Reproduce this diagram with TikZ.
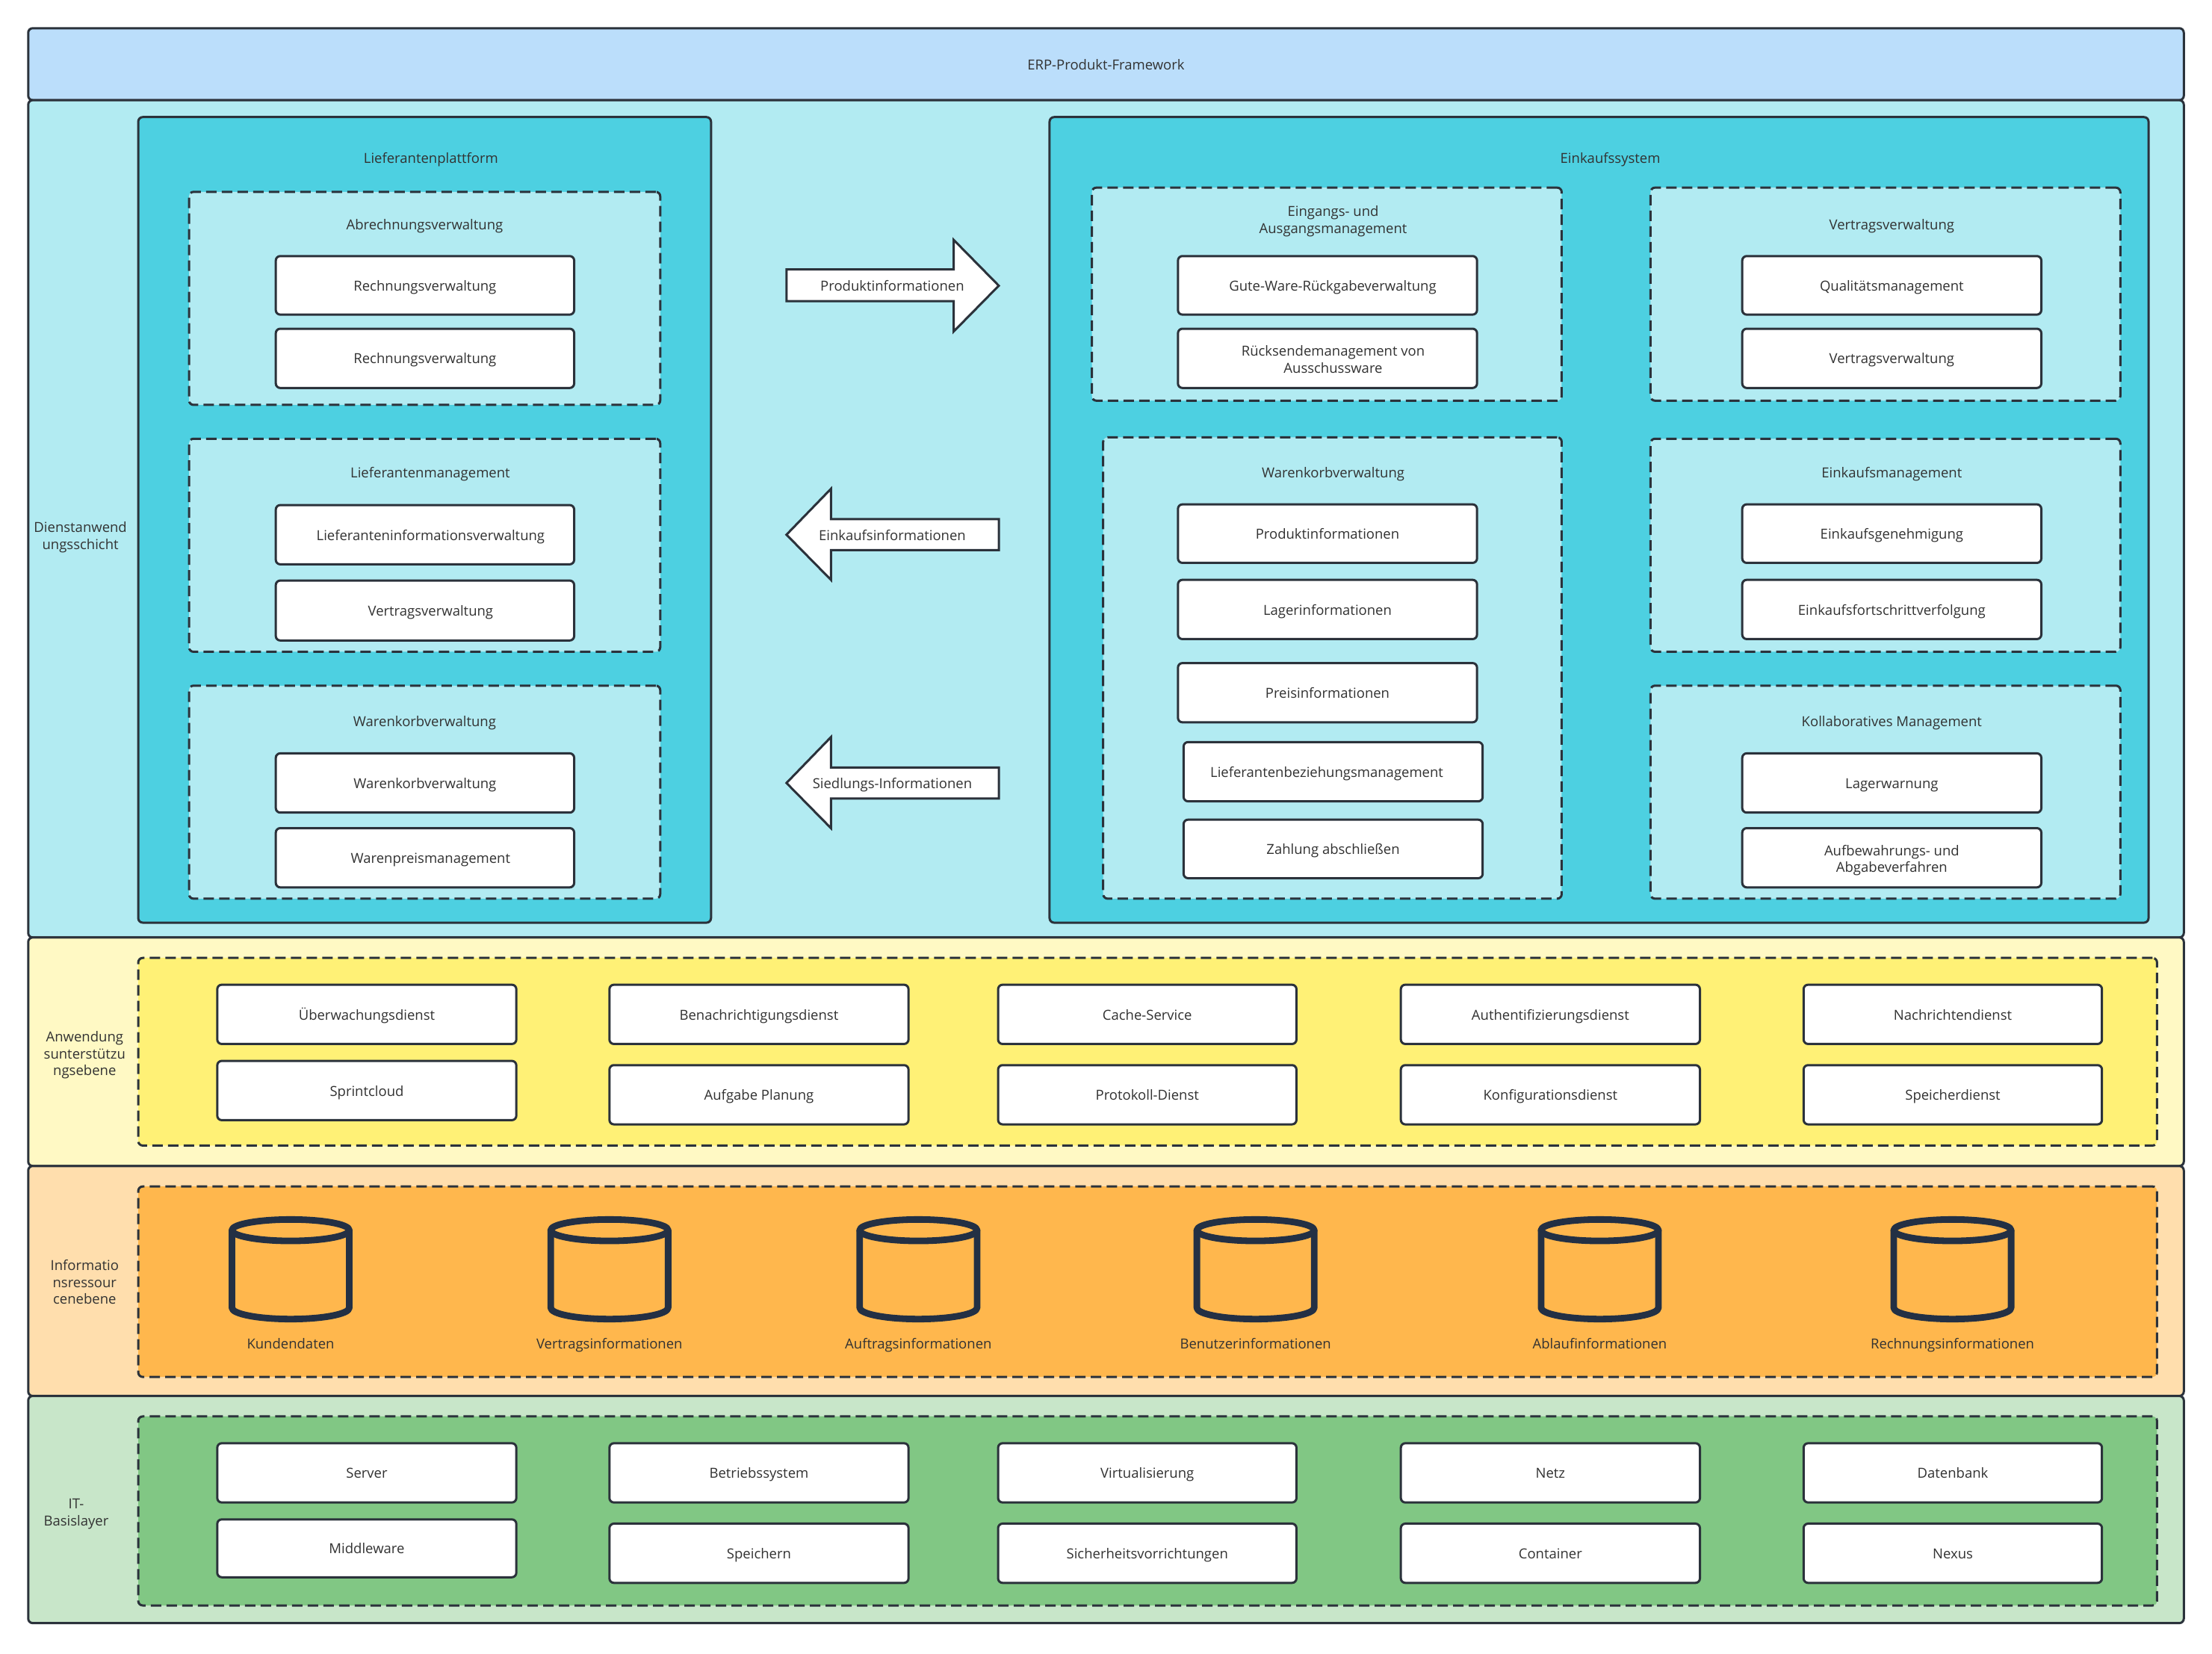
\documentclass[tikz,border=0pt]{standalone}
\usepackage{fontspec}
\setmainfont{Open Sans}
\usetikzlibrary{calc}
\definecolor{ink}{HTML}{2B323B}
\definecolor{txt}{HTML}{323232}
\definecolor{cyl}{HTML}{233044}
\definecolor{cTop}{HTML}{BBDEFB}
\definecolor{cCy}{HTML}{B2EBF2}
\definecolor{cCyD}{HTML}{4DD0E1}
\definecolor{cYe}{HTML}{FFF9C4}
\definecolor{cYeD}{HTML}{FFF176}
\definecolor{cOr}{HTML}{FFDEAD}
\definecolor{cOrD}{HTML}{FFB74D}
\definecolor{cGr}{HTML}{C8E6C9}
\definecolor{cGrD}{HTML}{81C784}
\tikzset{
  every node/.style={font=\fontsize{9.25pt}{11.3pt}\selectfont, text=txt, align=center, inner sep=0pt,
    execute at begin node={\rule[-3.39pt]{0pt}{14.1pt}}, execute at end node=\strut},
  frame/.style={draw=ink, line width=1.5pt, rounded corners=3pt},
  layerTop/.style={frame, fill=cTop},
  layerCy/.style={frame, fill=cCy},
  layerYe/.style={frame, fill=cYe},
  layerOr/.style={frame, fill=cOr},
  layerGr/.style={frame, fill=cGr},
  platform/.style={frame, fill=cCyD},
  dashCy/.style={frame, fill=cCy, dash pattern=on 7pt off 3.5pt},
  dashYe/.style={frame, fill=cYeD, dash pattern=on 7pt off 3.5pt},
  dashOr/.style={frame, fill=cOrD, dash pattern=on 7pt off 3.5pt},
  dashGr/.style={frame, fill=cGrD, dash pattern=on 7pt off 3.5pt},
  item/.style={frame, fill=white},
  flow/.style={draw=ink, line width=1.5pt, fill=white, line join=miter},
  drum/.style={draw=cyl, line width=4.4pt, line join=round},
  caption/.style={}
}
% first line of a text of several lines: lowers the whole text a little
\newcommand{\fl}{\rule{0pt}{11.7pt}}
% \bx{style}{name}{x1}{y1}{x2}{y2}{text}
\newcommand{\bx}[7]{%
  \pgfmathsetmacro{\bw}{(#5-#3)*0.9442}%
  \pgfmathsetmacro{\bh}{(#6-#4)*0.9442}%
  \node[#1, minimum width=\bw pt, minimum height=\bh pt] (#2) at ({(#3+#5)/2},{(#4+#6)/2}) {#7};%
}
\newcommand{\cyl}[3]{% name, cx, caption
  \coordinate (#1c) at (#2,872);
  \draw[drum] ($(#1c)+(-41.6,0)$) -- ($(#1c)+(-41.6,55)$)
     arc[start angle=180, end angle=0, x radius=41.6, y radius=8]
     -- ($(#1c)+(41.6,0)$);
  \draw[drum] (#1c) ellipse [x radius=41.6, y radius=7.6];
  \node[caption] (#1t) at (#2,952) {#3};
}
\begin{document}
\begin{tikzpicture}[x=0.9442pt,y=-0.9442pt]
\useasboundingbox (0,0) rectangle (1568,1172);
% layers
\bx{layerTop}{top}{20}{20}{1548}{71}{ERP-Produkt-Framework}
\bx{layerCy}{L2}{20}{71}{1548}{664.5}{}
\bx{layerYe}{L3}{20}{664.5}{1548}{826.5}{}
\bx{layerOr}{L4}{20}{826.5}{1548}{989.5}{}
\bx{layerGr}{L5}{20}{989.5}{1548}{1150.5}{}
\node[caption] (t2) at (57,379) {\fl Dienstanwend\\ungsschicht};
\node[caption] (t3) at (60,746) {\fl Anwendung\\sunterstützu\\ngsebene};
\node[caption] (t4) at (60,908) {\fl Informatio\\nsressour\\cenebene};
\node[caption] (t5) at (54,1071) {\fl IT-\\Basislayer};
% Lieferantenplattform
\bx{platform}{lp}{98}{83}{504}{654}{}
\node[caption] (lpt) at (305.5,112) {Lieferantenplattform};
\bx{dashCy}{d1}{134}{136}{468}{287}{}
\node[caption] (d1t) at (301,159) {Abrechnungsverwaltung};
\bx{item}{a1}{195.5}{181.5}{407}{223}{Rechnungsverwaltung}
\bx{item}{a2}{195.5}{233}{407}{275}{Rechnungsverwaltung}
\bx{dashCy}{d2}{134}{311}{468}{462}{}
\node[caption] (d2t) at (305,335) {Lieferantenmanagement};
\bx{item}{a3}{195.5}{358}{407}{400}{\hspace*{7.5pt}Lieferanteninformationsverwaltung}
\bx{item}{a4}{195.5}{411.5}{407}{454}{\hspace*{7.5pt}Vertragsverwaltung}
\bx{dashCy}{d3}{134}{486}{468}{637}{}
\node[caption] (d3t) at (301,511) {Warenkorbverwaltung};
\bx{item}{a5}{195.5}{534}{407}{576}{Warenkorbverwaltung}
\bx{item}{a6}{195.5}{587}{407}{629}{\hspace*{7.5pt}Warenpreismanagement}
% flow arrows
\draw[flow] (557.5,191) -- (676,191) -- (676,170) -- (708,202.5) -- (676,235) -- (676,213.5) -- (557.5,213.5) -- cycle;
\node[caption] (f1) at (632.5,202.5) {Produktinformationen};
\draw[flow] (708,368) -- (589,368) -- (589,346.5) -- (557.5,379) -- (589,411) -- (589,390) -- (708,390) -- cycle;
\node[caption] (f2) at (632.5,379) {Einkaufsinformationen};
\draw[flow] (708,544) -- (589,544) -- (589,522.5) -- (557.5,555) -- (589,587) -- (589,566) -- (708,566) -- cycle;
\node[caption] (f3) at (632.5,555) {Siedlungs-Informationen};
% Einkaufssystem
\bx{platform}{es}{744}{83}{1523}{654}{}
\node[caption] (est) at (1141.5,112) {Einkaufssystem};
\bx{dashCy}{e1}{774}{133}{1107}{284}{}
\node[caption] (e1t) at (945,155) {\fl Eingangs- und\\Ausgangsmanagement};
\bx{item}{b1}{835}{181.5}{1047}{223}{\hspace*{7pt}Gute-Ware-Rückgabeverwaltung}
\bx{item}{b2}{835}{233}{1047}{275}{\fl\hspace*{7.5pt}Rücksendemanagement von\\\hspace*{7.5pt}Ausschussware}
\bx{dashCy}{e2}{1170}{133}{1503}{284}{}
\node[caption] (e2t) at (1341,159) {Vertragsverwaltung};
\bx{item}{b3}{1235}{181.5}{1447}{223}{Qualitätsmanagement}
\bx{item}{b4}{1235}{233}{1447}{275}{Vertragsverwaltung}
\bx{dashCy}{e3}{782}{310}{1107}{637}{}
\node[caption] (e3t) at (945,335) {Warenkorbverwaltung};
\bx{item}{b5}{835}{357.5}{1047}{399}{Produktinformationen}
\bx{item}{b6}{835}{411}{1047}{453}{Lagerinformationen}
\bx{item}{b7}{835}{470}{1047}{512}{Preisinformationen}
\bx{item}{b8}{839}{526}{1051}{568}{Lieferantenbeziehungsmanagement\hspace*{8.5pt}}
\bx{item}{b9}{839}{581}{1051}{622.5}{Zahlung abschließen}
\bx{dashCy}{e4}{1170}{311}{1503}{462}{}
\node[caption] (e4t) at (1341,335) {Einkaufsmanagement};
\bx{item}{b10}{1235}{357.5}{1447}{399}{Einkaufsgenehmigung}
\bx{item}{b11}{1235}{411}{1447}{453}{Einkaufsfortschrittverfolgung}
\bx{dashCy}{e5}{1170}{486}{1503}{637}{}
\node[caption] (e5t) at (1341,511) {Kollaboratives Management};
\bx{item}{b12}{1235}{534}{1447}{576}{Lagerwarnung}
\bx{item}{b13}{1235}{587}{1447}{629}{\fl Aufbewahrungs- und\\Abgabeverfahren}
% Anwendungsunterstuetzung
\bx{dashYe}{y0}{98}{679}{1529}{812}{}
\bx{item}{y1}{154}{698}{366}{740}{Überwachungsdienst}
\bx{item}{y2}{432}{698}{644}{740}{Benachrichtigungsdienst}
\bx{item}{y3}{707.5}{698}{919}{740}{Cache-Service}
\bx{item}{y4}{993}{698}{1205}{740}{Authentifizierungsdienst}
\bx{item}{y5}{1278.5}{698}{1490}{740}{Nachrichtendienst}
\bx{item}{y6}{154}{752}{366}{794}{Sprintcloud}
\bx{item}{y7}{432}{755}{644}{797}{Aufgabe Planung}
\bx{item}{y8}{707.5}{755}{919}{797}{Protokoll-Dienst}
\bx{item}{y9}{993}{755}{1205}{797}{Konfigurationsdienst}
\bx{item}{y10}{1278.5}{755}{1490}{797}{Speicherdienst}
% Informationsressourcen
\bx{dashOr}{o0}{98}{841}{1529}{976}{}
\cyl{c1}{206}{Kundendaten}
\cyl{c2}{432}{Vertragsinformationen}
\cyl{c3}{651}{Auftragsinformationen}
\cyl{c4}{890}{Benutzerinformationen}
\cyl{c5}{1134}{Ablaufinformationen}
\cyl{c6}{1384}{Rechnungsinformationen}
% IT-Basis
\bx{dashGr}{g0}{98}{1004}{1529}{1138}{}
\bx{item}{g1}{154}{1023}{366}{1065}{Server}
\bx{item}{g2}{432}{1023}{644}{1065}{Betriebssystem}
\bx{item}{g3}{707.5}{1023}{919}{1065}{Virtualisierung}
\bx{item}{g4}{993}{1023}{1205}{1065}{Netz}
\bx{item}{g5}{1278.5}{1023}{1490}{1065}{Datenbank}
\bx{item}{g6}{154}{1077}{366}{1118}{Middleware}
\bx{item}{g7}{432}{1080}{644}{1122}{Speichern}
\bx{item}{g8}{707.5}{1080}{919}{1122}{Sicherheitsvorrichtungen}
\bx{item}{g9}{993}{1080}{1205}{1122}{Container}
\bx{item}{g10}{1278.5}{1080}{1490}{1122}{Nexus}
\end{tikzpicture}
\end{document}
